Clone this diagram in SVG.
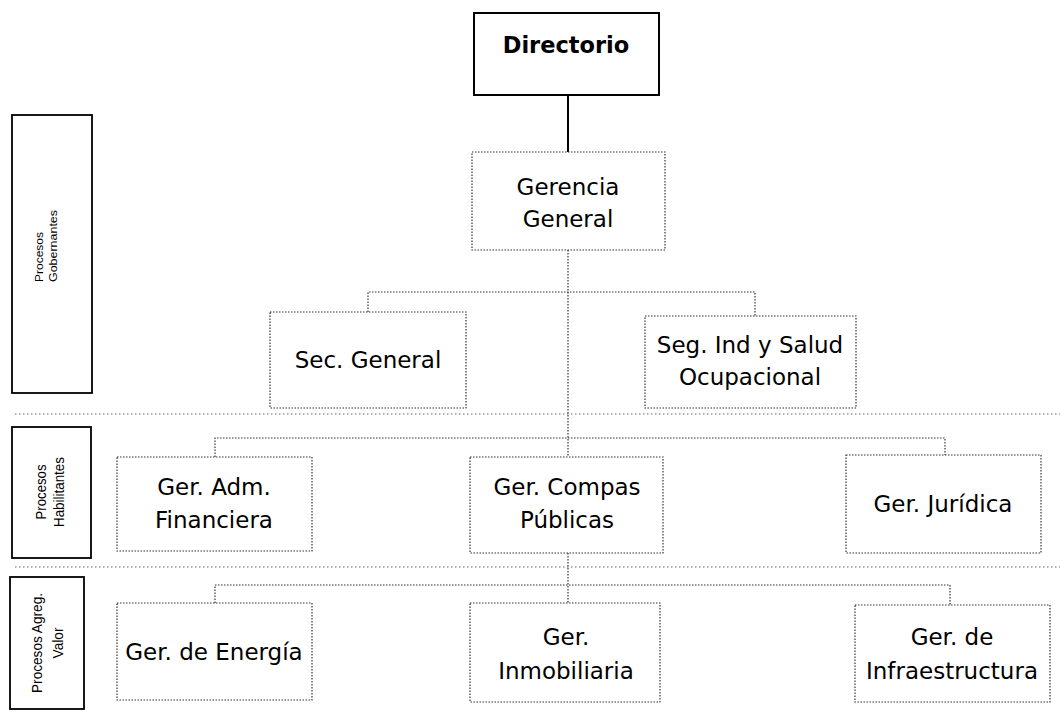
<svg xmlns="http://www.w3.org/2000/svg" width="1060" height="717" viewBox="0 0 1060 717">
<style>
.bg{fill:#fff}
.node{fill:#fff;stroke:#333;stroke-width:1.2;stroke-dasharray:1.5 1.5}
.solid{fill:#fff;stroke:#000;stroke-width:2}
.lbl{fill:#fff;stroke:#000;stroke-width:1.8}
.t{font-family:"DejaVu Sans",Verdana,sans-serif;font-size:23px;fill:#000;text-anchor:middle}
.tb{font-family:"DejaVu Sans",Verdana,sans-serif;font-size:22.5px;font-weight:bold;fill:#000;text-anchor:middle}
.side{font-family:"Liberation Sans",Arial,sans-serif;font-size:15px;fill:#000;text-anchor:middle}
.tiny{font-family:"Liberation Sans",Arial,sans-serif;font-size:11px;fill:#000;text-anchor:middle}
.conn{fill:none;stroke:#333;stroke-width:1.2;stroke-dasharray:1.5 1.5}
.sep{fill:none;stroke:#666;stroke-width:1;stroke-dasharray:1.5 2.5}
</style>
<rect class="bg" x="0" y="0" width="1060" height="717"/>

<g id="separators">
<line class="sep" x1="15" y1="414" x2="1060" y2="414"/>
<line class="sep" x1="15" y1="567" x2="1060" y2="567"/>
</g>

<g id="connectors">
<line x1="568" y1="95" x2="568" y2="152" stroke="#000" stroke-width="2"/>
<line class="conn" x1="568" y1="250" x2="568" y2="603"/>
<polyline class="conn" points="368,312 368,292 755,292 755,316"/>
<polyline class="conn" points="215,457 215,438 945,438 945,455"/>
<polyline class="conn" points="215,603 215,585 950,585 950,605"/>
</g>

<g id="lbl-gobernantes">
<rect class="lbl" x="12" y="115" width="80" height="278"/>
<text class="tiny" transform="translate(43,257) rotate(-90)" textLength="50" lengthAdjust="spacingAndGlyphs">Procesos</text>
<text class="tiny" transform="translate(57,246) rotate(-90)" textLength="72" lengthAdjust="spacingAndGlyphs">Gobernantes</text>
</g>
<g id="lbl-habilitantes">
<rect class="lbl" x="12" y="427" width="79" height="131"/>
<text class="side" transform="translate(46,492) rotate(-90)" textLength="55" lengthAdjust="spacingAndGlyphs">Procesos</text>
<text class="side" transform="translate(64,492) rotate(-90)" textLength="70" lengthAdjust="spacingAndGlyphs">Habilitantes</text>
</g>
<g id="lbl-agreg">
<rect class="lbl" x="10" y="577" width="74" height="132"/>
<text class="side" transform="translate(42,643) rotate(-90)" textLength="100" lengthAdjust="spacingAndGlyphs">Procesos Agreg.</text>
<text class="side" transform="translate(63,643) rotate(-90)" textLength="31" lengthAdjust="spacingAndGlyphs">Valor</text>
</g>

<g id="directorio">
<rect class="solid" x="474" y="13" width="185" height="82"/>
<text class="tb" x="566" y="53">Directorio</text>
</g>
<g id="gerencia-general">
<rect class="node" x="472" y="152" width="193" height="98"/>
<text class="t" x="568" y="195">Gerencia</text>
<text class="t" x="568" y="227">General</text>
</g>
<g id="sec-general">
<rect class="node" x="270" y="312" width="196" height="96"/>
<text class="t" x="368" y="368">Sec. General</text>
</g>
<g id="seg-ind">
<rect class="node" x="645" y="316" width="211" height="92"/>
<text class="t" x="750" y="353">Seg. Ind y Salud</text>
<text class="t" x="750" y="385">Ocupacional</text>
</g>
<g id="ger-adm">
<rect class="node" x="117" y="457" width="195" height="94"/>
<text class="t" x="214" y="495">Ger. Adm.</text>
<text class="t" x="214" y="528">Financiera</text>
</g>
<g id="ger-compras">
<rect class="node" x="470" y="457" width="193" height="96"/>
<text class="t" x="567" y="495">Ger. Compas</text>
<text class="t" x="567" y="528">Públicas</text>
</g>
<g id="ger-juridica">
<rect class="node" x="846" y="455" width="195" height="98"/>
<text class="t" x="943" y="512">Ger. Jurídica</text>
</g>
<g id="ger-energia">
<rect class="node" x="117" y="603" width="195" height="97"/>
<text class="t" x="214" y="660">Ger. de Energía</text>
</g>
<g id="ger-inmobiliaria">
<rect class="node" x="470" y="603" width="190" height="99"/>
<text class="t" x="566" y="645">Ger.</text>
<text class="t" x="566" y="679">Inmobiliaria</text>
</g>
<g id="ger-infra">
<rect class="node" x="855" y="605" width="195" height="97"/>
<text class="t" x="952" y="645">Ger. de</text>
<text class="t" x="952" y="679">Infraestructura</text>
</g>
</svg>
